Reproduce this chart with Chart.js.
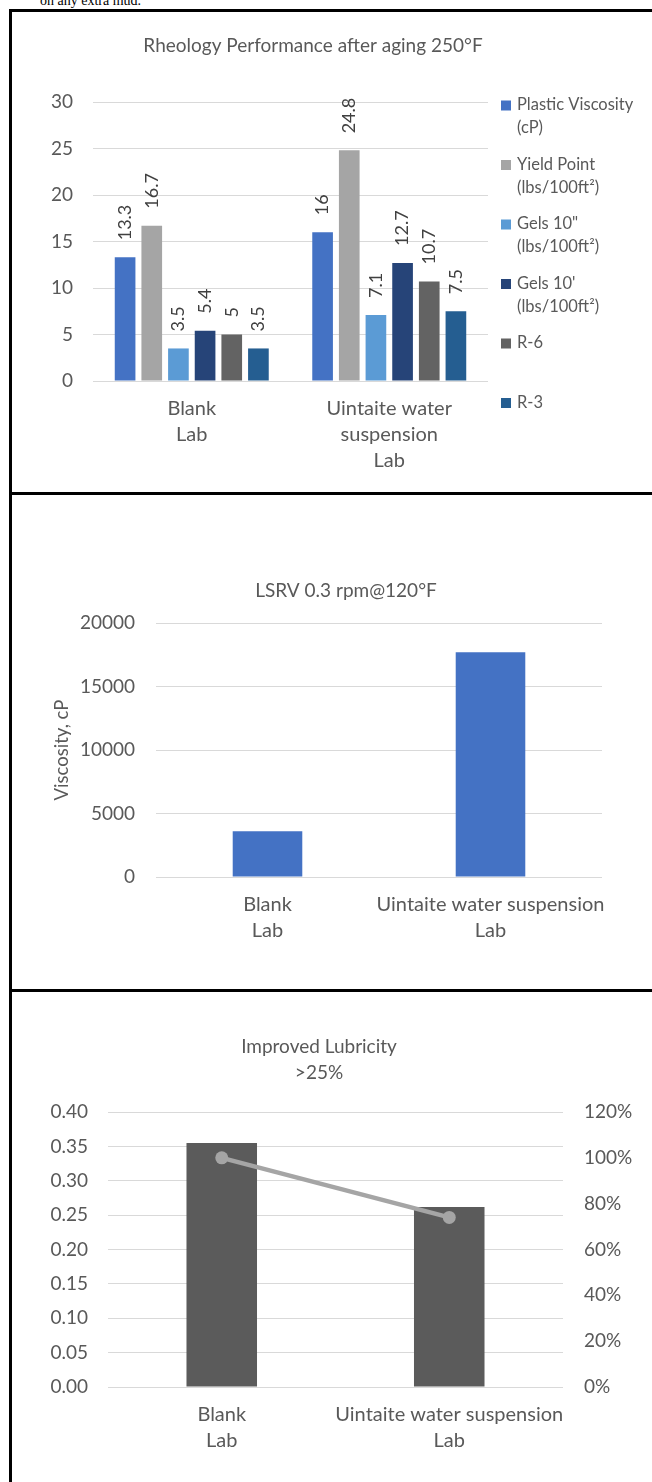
<!DOCTYPE html>
<html>
<head>
<meta charset="utf-8">
<script src="https://cdn.jsdelivr.net/npm/chart.js@4.4.1/dist/chart.umd.min.js"></script>
<style>
  html, body { margin: 0; padding: 0; background: #fff; }
  body { position: relative; width: 652px; height: 1482px; overflow: hidden; }
  canvas { position: absolute; left: 0; }
  .rule { position: absolute; background: #000; z-index: 2; }
  .body-text {
    position: absolute; left: 40px; top: -7.5px; margin: 0; line-height: 16px;
    font: 14px "Liberation Serif", "DejaVu Serif", serif; color: #000; white-space: nowrap;
  }
</style>
</head>
<body>
<p class="body-text">on any extra mud.</p>

<canvas id="rheology" width="652" height="492" style="top:0"></canvas>
<canvas id="lsrv" width="652" height="494" style="top:495px"></canvas>
<canvas id="lubricity" width="652" height="490" style="top:992px"></canvas>

<!-- table rules -->
<div class="rule" style="left:9px; top:9px; width:643px; height:3px"></div>
<div class="rule" style="left:9px; top:9px; width:3px; height:1473px"></div>
<div class="rule" style="left:9px; top:492px; width:643px; height:3px"></div>
<div class="rule" style="left:9px; top:989px; width:643px; height:3px"></div>

<script>
// ---- Rheology after aging 250°F ----
const rheologyCategories = [['Blank', 'Lab'], ['Uintaite water', 'suspension', 'Lab']];
const rheologySeries = [
  ['Plastic Viscosity', '(cP)'],
  ['Yield Point', '(lbs/100ft²)'],
  ['Gels 10"', '(lbs/100ft²)'],
  ["Gels 10'", '(lbs/100ft²)'],
  ['R-6'],
  ['R-3']
];
const plasticViscosity = [13.3, 16];
const yieldPoint = [16.7, 24.8];
const gels10Sec = [3.5, 7.1];
const gels10Min = [5.4, 12.7];
const r6 = [5, 10.7];
const r3 = [3.5, 7.5];
const rheologyTicks = [0, 5, 10, 15, 20, 25, 30];

// ---- LSRV 0.3 rpm @ 120°F ----
const lsrvCategories = [['Blank', 'Lab'], ['Uintaite water suspension', 'Lab']];
const lsrvViscosity = [3600, 17700];
const lsrvTicks = [0, 5000, 10000, 15000, 20000];

// ---- Lubricity ----
const lubricityCategories = [['Blank', 'Lab'], ['Uintaite water suspension', 'Lab']];
const lubricityCoefficient = [0.355, 0.262];
const lubricityRelative = [1.00, 0.74];
const lubricityTicks = [0, 0.05, 0.10, 0.15, 0.20, 0.25, 0.30, 0.35, 0.40];
const relativeTicks = [0, 0.2, 0.4, 0.6, 0.8, 1.0, 1.2];

const FONT = 'Lato, "Open Sans", sans-serif';
const TEXT = '#595959';
const GRID = '#D9D9D9';

function useTicks(values) {
  return scale => { scale.ticks = values.map(v => ({ value: v })); };
}
function fixWidth(w) { return scale => { scale.width = w; }; }
function fixHeight(h) { return scale => { scale.height = h; }; }

// chart heading drawn at a set place above the plot
const heading = {
  id: 'heading',
  afterDraw(chart, args, opts) {
    if (!opts.lines) return;
    const ctx = chart.ctx;
    ctx.save();
    ctx.font = opts.size + 'px ' + FONT;
    ctx.fillStyle = TEXT;
    ctx.textAlign = 'center';
    ctx.textBaseline = 'middle';
    opts.lines.forEach((line, i) => ctx.fillText(line, opts.x, opts.y + i * opts.lineHeight));
    ctx.restore();
  }
};

// rotated value labels above each bar
const barValues = {
  id: 'barValues',
  afterDatasetsDraw(chart, args, opts) {
    const ctx = chart.ctx;
    ctx.save();
    ctx.font = opts.size + 'px ' + FONT;
    ctx.fillStyle = '#404040';
    ctx.textAlign = 'left';
    ctx.textBaseline = 'middle';
    chart.data.datasets.forEach((ds, di) => {
      chart.getDatasetMeta(di).data.forEach((bar, i) => {
        ctx.save();
        ctx.translate(bar.x, bar.y - opts.gap);
        ctx.rotate(-Math.PI / 2);
        ctx.fillText(String(ds.data[i]), 0, 0);
        ctx.restore();
      });
    });
    ctx.restore();
  }
};

// legend to the right of the plot, with wrapped series names
const sideLegend = {
  id: 'sideLegend',
  afterDraw(chart, args, opts) {
    const ctx = chart.ctx;
    const area = chart.chartArea;
    ctx.save();
    ctx.font = opts.size + 'px ' + FONT;
    ctx.textAlign = 'left';
    ctx.textBaseline = 'middle';
    chart.data.datasets.forEach((ds, i) => {
      const y = area.top + opts.top + i * opts.pitch;
      ctx.fillStyle = ds.backgroundColor;
      ctx.fillRect(area.right + opts.boxGap, y - opts.box / 2 + 0.5, opts.box, opts.box);
      ctx.fillStyle = TEXT;
      ds.legendLines.forEach((line, k) => ctx.fillText(line, area.right + opts.textGap, y + k * opts.lineHeight));
    });
    ctx.restore();
  }
};

const tickFont = { family: FONT, size: 19 };
const catFont = { family: FONT, size: 20, lineHeight: '26px' };
const xGrid = { display: false, drawTicks: false };

// ---------- chart 1 ----------
const rheologyColors = ['#4472C4', '#A5A5A5', '#5B9BD5', '#264478', '#636363', '#255E91'];
const rheologyValues = [plasticViscosity, yieldPoint, gels10Sec, gels10Min, r6, r3];

new Chart(document.getElementById('rheology'), {
  type: 'bar',
  data: {
    labels: rheologyCategories,
    datasets: rheologyValues.map((vals, i) => ({
      label: rheologySeries[i].join(' '),
      legendLines: rheologySeries[i],
      data: vals,
      backgroundColor: rheologyColors[i],
      categoryPercentage: 0.81,
      barPercentage: 0.775
    }))
  },
  options: {
    responsive: false,
    animation: false,
    devicePixelRatio: 1,
    layout: { padding: { left: 0, top: 102, right: 164, bottom: 0 } },
    plugins: {
      legend: { display: false },
      tooltip: { enabled: false },
      heading: { lines: ['Rheology Performance after aging 250°F'], x: 313, y: 46, size: 19, lineHeight: 26 },
      barValues: { size: 18, gap: 17 },
      sideLegend: { size: 16.5, top: 3, pitch: 59.5, lineHeight: 23, box: 10, boxGap: 13, textGap: 29 }
    },
    scales: {
      x: {
        grid: xGrid,
        border: { display: false },
        ticks: { font: catFont, color: TEXT, padding: 15, maxRotation: 0, autoSkip: false },
        afterFit: fixHeight(111)
      },
      y: {
        min: rheologyTicks[0],
        max: rheologyTicks[rheologyTicks.length - 1],
        afterBuildTicks: useTicks(rheologyTicks),
        grid: { color: GRID, lineWidth: 1, drawTicks: false },
        border: { display: false },
        ticks: { font: tickFont, color: TEXT, padding: 20, callback: v => String(v) },
        afterFit: fixWidth(93)
      }
    }
  },
  plugins: [heading, barValues, sideLegend]
});

// ---------- chart 2 ----------
new Chart(document.getElementById('lsrv'), {
  type: 'bar',
  data: {
    labels: lsrvCategories,
    datasets: [{
      label: 'Viscosity, cP',
      data: lsrvViscosity,
      backgroundColor: '#4472C4',
      categoryPercentage: 1,
      barPercentage: 0.312
    }]
  },
  options: {
    responsive: false,
    animation: false,
    devicePixelRatio: 1,
    layout: { padding: { left: 0, top: 128, right: 50, bottom: 0 } },
    plugins: {
      legend: { display: false },
      tooltip: { enabled: false },
      heading: { lines: ['LSRV 0.3 rpm@120°F'], x: 346, y: 96, size: 19, lineHeight: 26 }
    },
    scales: {
      x: {
        grid: xGrid,
        border: { display: false },
        ticks: { font: catFont, color: TEXT, padding: 15, maxRotation: 0, autoSkip: false },
        afterFit: fixHeight(112)
      },
      y: {
        min: lsrvTicks[0],
        max: lsrvTicks[lsrvTicks.length - 1],
        afterBuildTicks: useTicks(lsrvTicks),
        grid: { color: GRID, lineWidth: 1, drawTicks: false },
        border: { display: false },
        ticks: { font: tickFont, color: TEXT, padding: 21, callback: v => String(v) },
        title: { display: true, text: 'Viscosity, cP', color: TEXT, font: { family: FONT, size: 18.5, lineHeight: 1.2 }, padding: { top: 51, bottom: 0 } },
        afterFit: fixWidth(156)
      }
    }
  },
  plugins: [heading]
});

// ---------- chart 3 ----------
new Chart(document.getElementById('lubricity'), {
  type: 'bar',
  data: {
    labels: lubricityCategories,
    datasets: [
      {
        type: 'line',
        label: 'Relative to blank',
        data: lubricityRelative,
        yAxisID: 'y1',
        borderColor: '#A5A5A5',
        borderWidth: 4.5,
        pointRadius: 6.5,
        pointBackgroundColor: '#A5A5A5',
        pointBorderWidth: 0,
        order: 0
      },
      {
        type: 'bar',
        label: 'Coefficient of friction',
        data: lubricityCoefficient,
        yAxisID: 'y',
        backgroundColor: '#5B5B5B',
        categoryPercentage: 1,
        barPercentage: 0.31,
        order: 1
      }
    ]
  },
  options: {
    responsive: false,
    animation: false,
    devicePixelRatio: 1,
    layout: { padding: { left: 0, top: 120, right: 0, bottom: 0 } },
    plugins: {
      legend: { display: false },
      tooltip: { enabled: false },
      heading: { lines: ['Improved Lubricity', '>25%'], x: 319, y: 55, size: 19, lineHeight: 26 }
    },
    scales: {
      x: {
        grid: xGrid,
        border: { display: false },
        ticks: { font: catFont, color: TEXT, padding: 15, maxRotation: 0, autoSkip: false },
        afterFit: fixHeight(95)
      },
      y: {
        position: 'left',
        min: lubricityTicks[0],
        max: lubricityTicks[lubricityTicks.length - 1],
        afterBuildTicks: useTicks(lubricityTicks),
        grid: { color: GRID, lineWidth: 1, drawTicks: false },
        border: { display: false },
        ticks: { font: tickFont, color: TEXT, padding: 20, callback: v => v.toFixed(2) },
        afterFit: fixWidth(108)
      },
      y1: {
        position: 'right',
        min: relativeTicks[0],
        max: relativeTicks[relativeTicks.length - 1],
        afterBuildTicks: useTicks(relativeTicks),
        grid: { display: false, drawOnChartArea: false, drawTicks: false },
        border: { display: false },
        ticks: { font: tickFont, color: TEXT, padding: 21, callback: v => Math.round(v * 100) + '%' },
        afterFit: fixWidth(89)
      }
    }
  },
  plugins: [heading]
});
</script>
</body>
</html>
